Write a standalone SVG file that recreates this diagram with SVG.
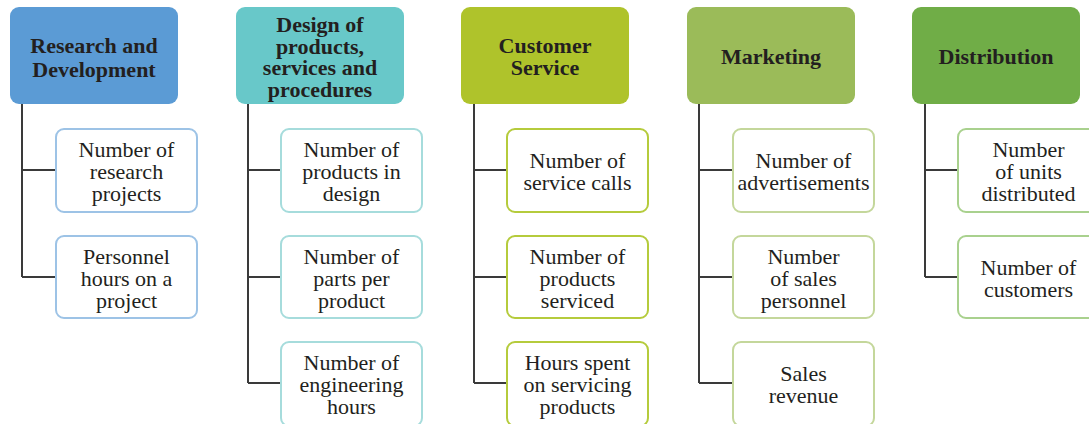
<svg xmlns="http://www.w3.org/2000/svg" width="1089" height="424" viewBox="0 0 1089 424">
<style>
.ht{font-family:"Liberation Serif",serif;font-weight:bold;font-size:22px;fill:#231f20;text-anchor:middle}
.ct{font-family:"Liberation Serif",serif;font-size:22px;fill:#231f20;text-anchor:middle}
.c{fill:#fff;stroke-width:2}
.ln{fill:none;stroke:#3a3a3a;stroke-width:2}
</style>
<rect width="1089" height="424" fill="#fff"/>
<g id="connectors">
<path class="ln" d="M22,104V277M22,170H56M22,277H56"/>
<path class="ln" d="M248,104V383M248,170H281M248,277H281M248,383H281"/>
<path class="ln" d="M474,104V383M474,170H507M474,277H507M474,383H507"/>
<path class="ln" d="M699,104V383M699,170H733M699,277H733M699,383H733"/>
<path class="ln" d="M925,104V277M925,170H958M925,277H958"/>
</g>
<g id="rd">
<rect x="10" y="7" width="168" height="97" rx="9" fill="#5b9bd5"/>
<text class="ht" x="94" y="53">Research and</text>
<text class="ht" x="94" y="77">Development</text>
</g>
<g id="rd1"><rect class="c" x="56" y="129" width="141" height="83" rx="8" stroke="#9dc3e6"/>
<text class="ct" x="126.5" y="157">Number of</text><text class="ct" x="126.5" y="179">research</text><text class="ct" x="126.5" y="201">projects</text></g>
<g id="rd2"><rect class="c" x="56" y="236" width="141" height="82" rx="8" stroke="#9dc3e6"/>
<text class="ct" x="126.5" y="264">Personnel</text><text class="ct" x="126.5" y="286">hours on a</text><text class="ct" x="126.5" y="308">project</text></g>
<g id="design">
<rect x="236" y="7" width="168" height="97" rx="9" fill="#68c8c9"/>
<text class="ht" x="320" y="32">Design of</text>
<text class="ht" x="320" y="54">products,</text>
<text class="ht" x="320" y="75">services and</text>
<text class="ht" x="320" y="97">procedures</text>
</g>
<g id="d1"><rect class="c" x="281" y="129" width="141" height="83" rx="8" stroke="#a6dcdc"/>
<text class="ct" x="351.5" y="157">Number of</text><text class="ct" x="351.5" y="179">products in</text><text class="ct" x="351.5" y="201">design</text></g>
<g id="d2"><rect class="c" x="281" y="236" width="141" height="82" rx="8" stroke="#a6dcdc"/>
<text class="ct" x="351.5" y="264">Number of</text><text class="ct" x="351.5" y="286">parts per</text><text class="ct" x="351.5" y="308">product</text></g>
<g id="d3"><rect class="c" x="281" y="342" width="141" height="84" rx="8" stroke="#a6dcdc"/>
<text class="ct" x="351.5" y="370">Number of</text><text class="ct" x="351.5" y="392">engineering</text><text class="ct" x="351.5" y="414">hours</text></g>
<g id="cs">
<rect x="461" y="7" width="168" height="97" rx="9" fill="#afc32b"/>
<text class="ht" x="545" y="53">Customer</text>
<text class="ht" x="545" y="75">Service</text>
</g>
<g id="c1"><rect class="c" x="507" y="129" width="141" height="83" rx="8" stroke="#b5cb3c"/>
<text class="ct" x="577.5" y="168">Number of</text><text class="ct" x="577.5" y="190">service calls</text></g>
<g id="c2"><rect class="c" x="507" y="236" width="141" height="82" rx="8" stroke="#b5cb3c"/>
<text class="ct" x="577.5" y="264">Number of</text><text class="ct" x="577.5" y="286">products</text><text class="ct" x="577.5" y="308">serviced</text></g>
<g id="c3"><rect class="c" x="507" y="342" width="141" height="84" rx="8" stroke="#b5cb3c"/>
<text class="ct" x="577.5" y="370">Hours spent</text><text class="ct" x="577.5" y="392">on servicing</text><text class="ct" x="577.5" y="414">products</text></g>
<g id="mk">
<rect x="687" y="7" width="168" height="97" rx="9" fill="#9bbb59"/>
<text class="ht" x="771" y="64">Marketing</text>
</g>
<g id="m1"><rect class="c" x="733" y="129" width="141" height="83" rx="8" stroke="#c4d79b"/>
<text class="ct" x="803.5" y="168">Number of</text><text class="ct" x="803.5" y="190">advertisements</text></g>
<g id="m2"><rect class="c" x="733" y="236" width="141" height="82" rx="8" stroke="#c4d79b"/>
<text class="ct" x="803.5" y="264">Number</text><text class="ct" x="803.5" y="286">of sales</text><text class="ct" x="803.5" y="308">personnel</text></g>
<g id="m3"><rect class="c" x="733" y="342" width="141" height="84" rx="8" stroke="#c4d79b"/>
<text class="ct" x="803.5" y="381">Sales</text><text class="ct" x="803.5" y="403">revenue</text></g>
<g id="dist">
<rect x="912" y="7" width="168" height="97" rx="9" fill="#70ad47"/>
<text class="ht" x="996" y="64">Distribution</text>
</g>
<g id="x1"><rect class="c" x="958" y="129" width="141" height="83" rx="8" stroke="#a9d18e"/>
<text class="ct" x="1028.5" y="157">Number</text><text class="ct" x="1028.5" y="179">of units</text><text class="ct" x="1028.5" y="201">distributed</text></g>
<g id="x2"><rect class="c" x="958" y="236" width="141" height="82" rx="8" stroke="#a9d18e"/>
<text class="ct" x="1028.5" y="275">Number of</text><text class="ct" x="1028.5" y="297">customers</text></g>
</svg>
